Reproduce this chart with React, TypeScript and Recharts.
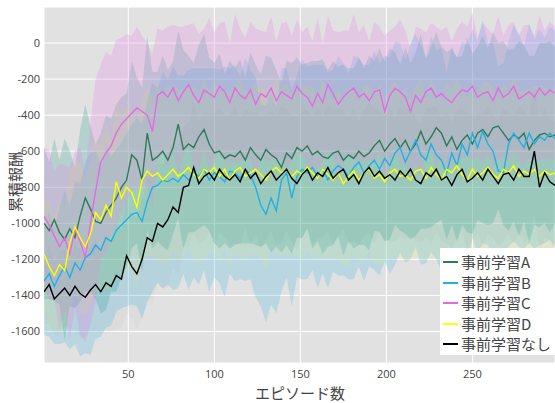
import { ComposedChart, Area, Line, XAxis, YAxis, CartesianGrid } from "recharts";

// episode index: every 3rd episode, 1..298
const episodes: number[] = Array.from({ length: 100 }, (_, i) => 1 + 3 * i);

// 事前学習A (mean / std)
const meanA = [
  -1000, -1040, -980, -1050, -1090, -1030, -1080, -960, -860, -920,
  -990, -1000, -940, -900, -860, -800, -760, -620, -650, -760,
  -500, -650, -630, -600, -650, -580, -450, -590, -560, -580,
  -520, -480, -560, -610, -600, -640, -620, -630, -600, -650,
  -580, -620, -650, -590, -620, -640, -690, -610, -640, -580,
  -600, -570, -620, -600, -630, -640, -610, -600, -650, -620,
  -640, -600, -630, -610, -570, -540, -600, -560, -530, -580,
  -540, -600, -560, -490, -560, -520, -470, -500, -570, -520,
  -590, -540, -510, -560, -500, -480, -520, -470, -460, -500,
  -540, -510, -530, -500, -590, -540, -510, -500, -520, -510,
];
const stdA = [
  420, 380, 450, 400, 560, 430, 390, 480, 520, 460,
  430, 500, 540, 480, 520, 500, 480, 520, 460, 510,
  540, 490, 470, 530, 500, 480, 520, 550, 490, 470,
  510, 530, 480, 500, 540, 470, 520, 490, 510, 460,
  530, 500, 480, 520, 540, 490, 470, 510, 530, 500,
  480, 460, 520, 500, 540, 490, 510, 470, 530, 480,
  500, 520, 490, 540, 470, 510, 500, 530, 480, 460,
  520, 490, 510, 540, 470, 500, 530, 480, 520, 490,
  510, 470, 540, 500, 480, 520, 490, 530, 460, 510,
  500, 480, 540, 490, 520, 470, 510, 500, 530, 490,
];

// 事前学習B
const meanB = [
  -1320, -1280, -1350, -1290, -1240, -1300, -1220, -1260, -1190, -1170,
  -1120, -1150, -1080, -1100, -1040, -1010, -980, -950, -940, -990,
  -880, -800, -790, -760, -770, -750, -770, -730, -760, -720,
  -740, -700, -760, -720, -740, -770, -710, -720, -750, -700,
  -730, -800, -900, -950, -860, -930, -760, -720, -860, -740,
  -700, -720, -690, -740, -700, -760, -710, -680, -700, -740,
  -690, -660, -720, -680, -650, -700, -640, -680, -610, -580,
  -660, -600, -540, -620, -650, -560, -620, -650, -720, -610,
  -680, -560, -620, -500, -580, -490, -560, -600, -710, -720,
  -560, -500, -540, -580, -500, -560, -520, -540, -500, -530,
];
const stdB = [
  300, 350, 320, 380, 420, 400, 450, 480, 530, 560,
  520, 480, 500, 470, 450, 460, 480, 500, 520, 540,
  560, 580, 540, 600, 570, 620, 590, 550, 610, 580,
  600, 560, 620, 580, 590, 640, 570, 600, 560, 620,
  580, 610, 560, 600, 590, 570, 620, 580, 600, 560,
  610, 590, 570, 620, 580, 600, 560, 610, 590, 570,
  620, 580, 600, 560, 610, 590, 570, 600, 620, 580,
  560, 600, 590, 610, 570, 600, 580, 620, 560, 590,
  600, 570, 610, 580, 590, 620, 560, 600, 580, 610,
  570, 600, 590, 560, 610, 580, 600, 570, 590, 600,
];

// 事前学習C
const meanC = [
  -960, -1010, -1070, -1130, -1080, -1170, -1030, -1100, -1190, -1000,
  -820, -660, -610, -570, -500, -450, -420, -390, -360, -380,
  -400, -490, -290, -270, -300, -250, -320, -270, -230, -290,
  -330, -260, -280, -300, -240, -270, -330, -250, -290, -310,
  -260, -340, -280, -300, -250, -320, -270, -290, -310, -240,
  -280, -300, -350, -280, -330, -230, -280, -340, -300, -270,
  -250, -300, -280, -320, -270, -260, -380, -290, -250, -270,
  -300, -380, -290, -330, -270, -250, -300, -280, -310, -330,
  -290, -260, -270, -240, -300, -280, -270, -320, -250, -300,
  -280, -240, -310, -290, -270, -300, -250, -290, -260, -280,
];
const stdC = [
  380, 420, 350, 460, 400, 480, 430, 520, 470, 560,
  620, 540, 560, 500, 520, 480, 470, 430, 450, 420,
  400, 430, 370, 340, 390, 350, 410, 360, 330, 400,
  380, 340, 420, 360, 350, 390, 330, 410, 370, 340,
  380, 420, 350, 360, 400, 330, 380, 410, 350, 370,
  340, 390, 360, 420, 330, 380, 350, 400, 370, 340,
  410, 360, 380, 330, 390, 350, 420, 360, 340, 400,
  370, 350, 380, 410, 330, 360, 390, 350, 400, 340,
  370, 380, 360, 410, 330, 390, 350, 370, 400, 340,
  380, 360, 350, 390, 370, 340, 400, 360, 380, 370,
];

// 事前学習D
const meanD = [
  -1170, -1240, -1290, -1230, -1260, -1110, -1020, -1080, -1130, -1060,
  -940, -980, -900, -960, -770, -860, -800, -830, -910, -760,
  -710, -740, -720, -760, -730, -700, -740, -720, -690, -730,
  -750, -700, -720, -690, -740, -700, -760, -710, -690, -740,
  -720, -700, -730, -760, -710, -690, -720, -700, -740, -710,
  -730, -690, -720, -750, -700, -730, -760, -720, -780, -740,
  -710, -760, -720, -700, -750, -730, -770, -720, -700, -740,
  -730, -760, -710, -700, -750, -690, -730, -760, -700, -720,
  -680, -730, -760, -700, -740, -720, -690, -730, -750, -700,
  -720, -680, -740, -710, -730, -700, -740, -710, -730, -720,
];
const stdD = [
  320, 360, 300, 380, 340, 400, 360, 420, 380, 400,
  440, 400, 460, 420, 480, 440, 460, 430, 470, 450,
  470, 440, 490, 460, 500, 450, 480, 470, 440, 490,
  460, 500, 450, 480, 470, 440, 490, 460, 500, 470,
  450, 480, 470, 500, 440, 490, 460, 480, 450, 470,
  490, 460, 480, 450, 500, 470, 440, 480, 460, 490,
  470, 450, 490, 460, 480, 500, 440, 470, 490, 460,
  480, 450, 470, 500, 460, 490, 470, 440, 480, 460,
  490, 470, 450, 480, 460, 500, 470, 490, 450, 480,
  460, 490, 470, 450, 480, 460, 500, 470, 450, 480,
];

// 事前学習なし
const meanN = [
  -1380, -1340, -1420, -1390, -1360, -1400, -1350, -1390, -1410, -1370,
  -1340, -1380, -1330, -1350, -1290, -1310, -1180, -1240, -1280, -1200,
  -1080, -1100, -1000, -1020, -980, -910, -940, -800, -790, -690,
  -780, -740, -720, -760, -700, -740, -760, -730, -770, -700,
  -750, -720, -780, -740, -710, -760, -730, -700, -750, -780,
  -730, -700, -760, -720, -740, -690, -750, -720, -700, -760,
  -730, -780, -720, -690, -740, -710, -750, -730, -760, -710,
  -740, -700, -760, -780, -720, -740, -700, -760, -740, -790,
  -730, -700, -770, -750, -720, -760, -700, -740, -780, -730,
  -720, -760, -700, -740, -740, -600, -800, -720, -770, -790,
];
const stdN = [
  180, 220, 200, 240, 210, 190, 230, 250, 220, 240,
  260, 230, 280, 250, 300, 270, 320, 290, 310, 330,
  340, 360, 330, 350, 370, 340, 360, 330, 350, 370,
  340, 360, 330, 370, 350, 340, 360, 380, 350, 330,
  360, 340, 370, 350, 330, 360, 380, 340, 350, 370,
  350, 330, 360, 370, 340, 350, 380, 360, 330, 350,
  370, 340, 350, 360, 380, 330, 350, 370, 340, 360,
  350, 370, 340, 330, 360, 380, 350, 340, 370, 350,
  360, 340, 380, 350, 330, 370, 360, 340, 350, 370,
  340, 360, 350, 370, 330, 350, 380, 360, 340, 350,
];

const xTicks = [50, 100, 150, 200, 250];
const yTicks = [-1600, -1400, -1200, -1000, -800, -600, -400, -200, 0];

const SERIES = [
  { key: "A", name: "事前学習A", mean: meanA, std: stdA, line: "#2f7a58", fill: "#2a9d8f", op: 0.24 },
  { key: "B", name: "事前学習B", mean: meanB, std: stdB, line: "#1fb1e3", fill: "#1fb1e3", op: 0.2 },
  { key: "C", name: "事前学習C", mean: meanC, std: stdC, line: "#e46ae4", fill: "#e886ee", op: 0.27 },
  { key: "D", name: "事前学習D", mean: meanD, std: stdD, line: "#ffff00", fill: "#ffff00", op: 0.08 },
  { key: "N", name: "事前学習なし", mean: meanN, std: stdN, line: "#000000", fill: "#000000", op: 0.02 },
];

const data = episodes.map((ep, i) => {
  const row: Record<string, any> = { ep };
  SERIES.forEach((s) => {
    row[s.key] = s.mean[i];
    row[s.key + "band"] = [s.mean[i] - s.std[i], s.mean[i] + s.std[i]];
  });
  return row;
});

const TICK_FONT = "'Open Sans', 'DejaVu Sans', sans-serif";
const JP_FONT = "'Noto Sans CJK JP', sans-serif";

function XTitle() {
  return (
    <text x={300} y={399} textAnchor="middle" fontSize={15} fill="#444" fontFamily={JP_FONT}>
      エピソード数
    </text>
  );
}

function YTitle() {
  return (
    <text
      transform="translate(14,182) rotate(-90)"
      textAnchor="middle"
      dominantBaseline="central"
      fontSize={15}
      fill="#444"
      fontFamily={JP_FONT}
    >
      累積報酬
    </text>
  );
}

export default function App() {
  return (
    <div style={{ position: "absolute", left: 0, top: 0, width: 555, height: 403, background: "#fff" }}>
      <ComposedChart width={555} height={403} data={data} margin={{ top: 7, right: 0, bottom: 0, left: 0 }}>
        <CartesianGrid stroke="#fff" strokeWidth={1} fill="#e1e1e1" fillOpacity={1} />
        <XAxis
          dataKey="ep"
          type="number"
          domain={[1, 298]}
          ticks={xTicks}
          allowDataOverflow
          height={40}
          tickLine={false}
          axisLine={false}
          tickSize={0}
          tickMargin={7}
          tick={{ fontSize: 11, fill: "#444", fontFamily: TICK_FONT }}
          label={<XTitle />}
        />
        <YAxis
          type="number"
          domain={[-1775, 200]}
          ticks={yTicks}
          allowDataOverflow
          width={44}
          tickLine={false}
          axisLine={false}
          tickSize={0}
          tickMargin={4}
          tick={{ fontSize: 11, fill: "#444", fontFamily: TICK_FONT }}
          label={<YTitle />}
        />
        {SERIES.map((s) => (
          <Area
            key={s.key + "band"}
            dataKey={s.key + "band"}
            type="linear"
            stroke="none"
            fill={s.fill}
            fillOpacity={s.op}
            isAnimationActive={false}
            activeDot={false}
          />
        ))}
        {SERIES.map((s) => (
          <Line
            key={s.key}
            dataKey={s.key}
            type="linear"
            stroke={s.line}
            strokeWidth={1.4}
            dot={false}
            isAnimationActive={false}
          />
        ))}
      </ComposedChart>
      <div
        style={{
          position: "absolute",
          left: 440,
          top: 248,
          width: 115,
          height: 107,
          background: "#fff",
          fontFamily: JP_FONT,
          fontSize: 15,
          color: "#444",
          paddingTop: 4,
          boxSizing: "border-box",
        }}
      >
        {SERIES.map((s) => (
          <div key={s.key} style={{ display: "flex", alignItems: "center", height: 20.5 }}>
            <span style={{ display: "inline-block", width: 15, height: 2, background: s.line, marginLeft: 3, marginRight: 3 }} />
            <span style={{ lineHeight: "20px" }}>{s.name}</span>
          </div>
        ))}
      </div>
    </div>
  );
}
